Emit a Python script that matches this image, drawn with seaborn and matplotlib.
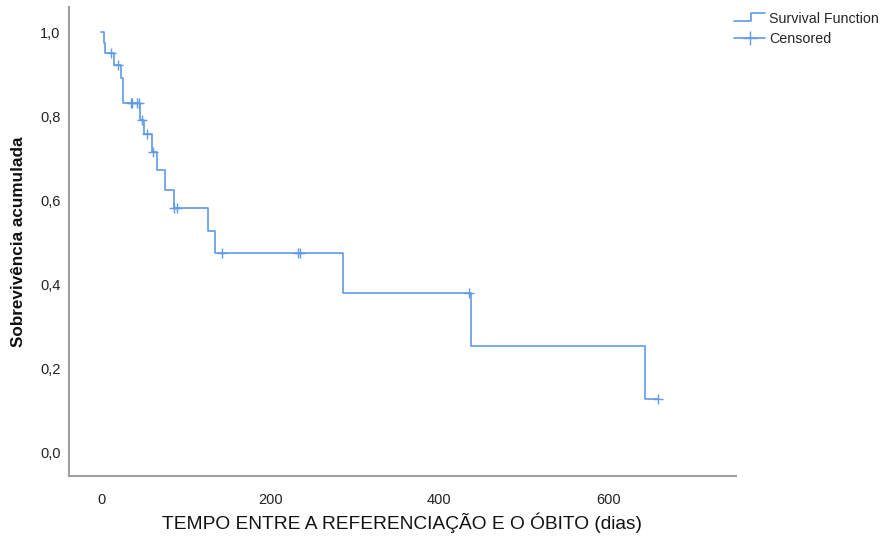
import matplotlib
matplotlib.use("Agg")
from matplotlib import pyplot as plt
from matplotlib.legend_handler import HandlerBase
from matplotlib.lines import Line2D
from matplotlib.ticker import FuncFormatter
import seaborn as sns
import pandas as pd

# Kaplan-Meier steps (time in days, survival after step)
step_times = [0, 3, 4, 15, 24, 26, 46, 51, 60, 66, 76, 86, 127, 135, 286, 437, 643, 659]
step_surv = [1.0, 0.975, 0.95, 0.922, 0.891, 0.831, 0.791, 0.758, 0.716, 0.672,
             0.626, 0.581, 0.528, 0.476, 0.381, 0.254, 0.127, 0.127]

# censored cases
cens_times = [12, 20, 35, 37, 43, 45, 48, 54, 61, 86, 90, 143, 233, 235, 435, 659]
cens_surv = [0.95, 0.922, 0.831, 0.831, 0.831, 0.831, 0.791, 0.758, 0.716, 0.581,
             0.581, 0.476, 0.476, 0.476, 0.381, 0.127]

df_km = pd.DataFrame({"t": step_times, "s": step_surv})
df_c = pd.DataFrame({"t": cens_times, "s": cens_surv})

sns.set_style("white")
plt.rcParams["font.family"] = ["Liberation Sans", "DejaVu Sans"]

blue = "#5f9be6"

fig = plt.figure(figsize=(8.84, 5.38), dpi=100)
ax = fig.add_axes([69 / 884, 1 - 476 / 538, (736 - 69) / 884, (476 - 7) / 538])

sns.lineplot(data=df_km, x="t", y="s", drawstyle="steps-post", estimator=None,
             color=blue, linewidth=1.2, ax=ax)
sns.scatterplot(data=df_c, x="t", y="s", marker="+", s=55, color=blue,
                linewidth=1.0, ax=ax, zorder=3)

ax.set_xlim(-38, 751)
ax.set_ylim(-0.055, 1.06)
ax.set_xticks([0, 200, 400, 600])
ax.set_yticks([0, 0.2, 0.4, 0.6, 0.8, 1.0])
ax.yaxis.set_major_formatter(FuncFormatter(lambda v, p: f"{v:.1f}".replace(".", ",")))

for side in ["top", "right"]:
    ax.spines[side].set_visible(False)
for side in ["left", "bottom"]:
    ax.spines[side].set_color("#a0a0a0")
    ax.spines[side].set_linewidth(1.5)

ax.tick_params(axis="both", length=0, labelsize=10.5, colors="#222222")
ax.tick_params(axis="x", pad=12)
ax.tick_params(axis="y", pad=6)

ax.set_xlabel("TEMPO ENTRE A REFERENCIAÇÃO E O ÓBITO (dias)", fontsize=13.8,
              color="#111111", labelpad=4)
ax.set_ylabel("Sobrevivência acumulada", fontsize=12.3, fontweight="bold",
              color="#111111", labelpad=10)


class StepHandler(HandlerBase):
    def create_artists(self, legend, orig_handle, xdescent, ydescent,
                       width, height, fontsize, trans):
        xs = [-xdescent, -xdescent + 0.55 * width, -xdescent + 0.55 * width, -xdescent + width]
        ys = [-ydescent + 0.15 * height, -ydescent + 0.15 * height,
              -ydescent + 0.95 * height, -ydescent + 0.95 * height]
        ln = Line2D(xs, ys, color=blue, linewidth=1.2)
        ln.set_transform(trans)
        return [ln]


h_surv = Line2D([], [], color=blue, linewidth=1.2)
h_cens = Line2D([], [], color=blue, linewidth=1.2, marker="+", markersize=10,
                markeredgewidth=1.0)
leg = fig.legend([h_surv, h_cens], ["Survival Function", "Censored"],
                 handler_map={h_surv: StepHandler()},
                 loc="upper left", bbox_to_anchor=(731 / 884, 1 - 9 / 538),
                 frameon=False, fontsize=10.3, handlelength=2.2, handletextpad=0.25,
                 labelspacing=0.45, borderaxespad=0, borderpad=0.2)

fig.savefig("out.png", dpi=100)
